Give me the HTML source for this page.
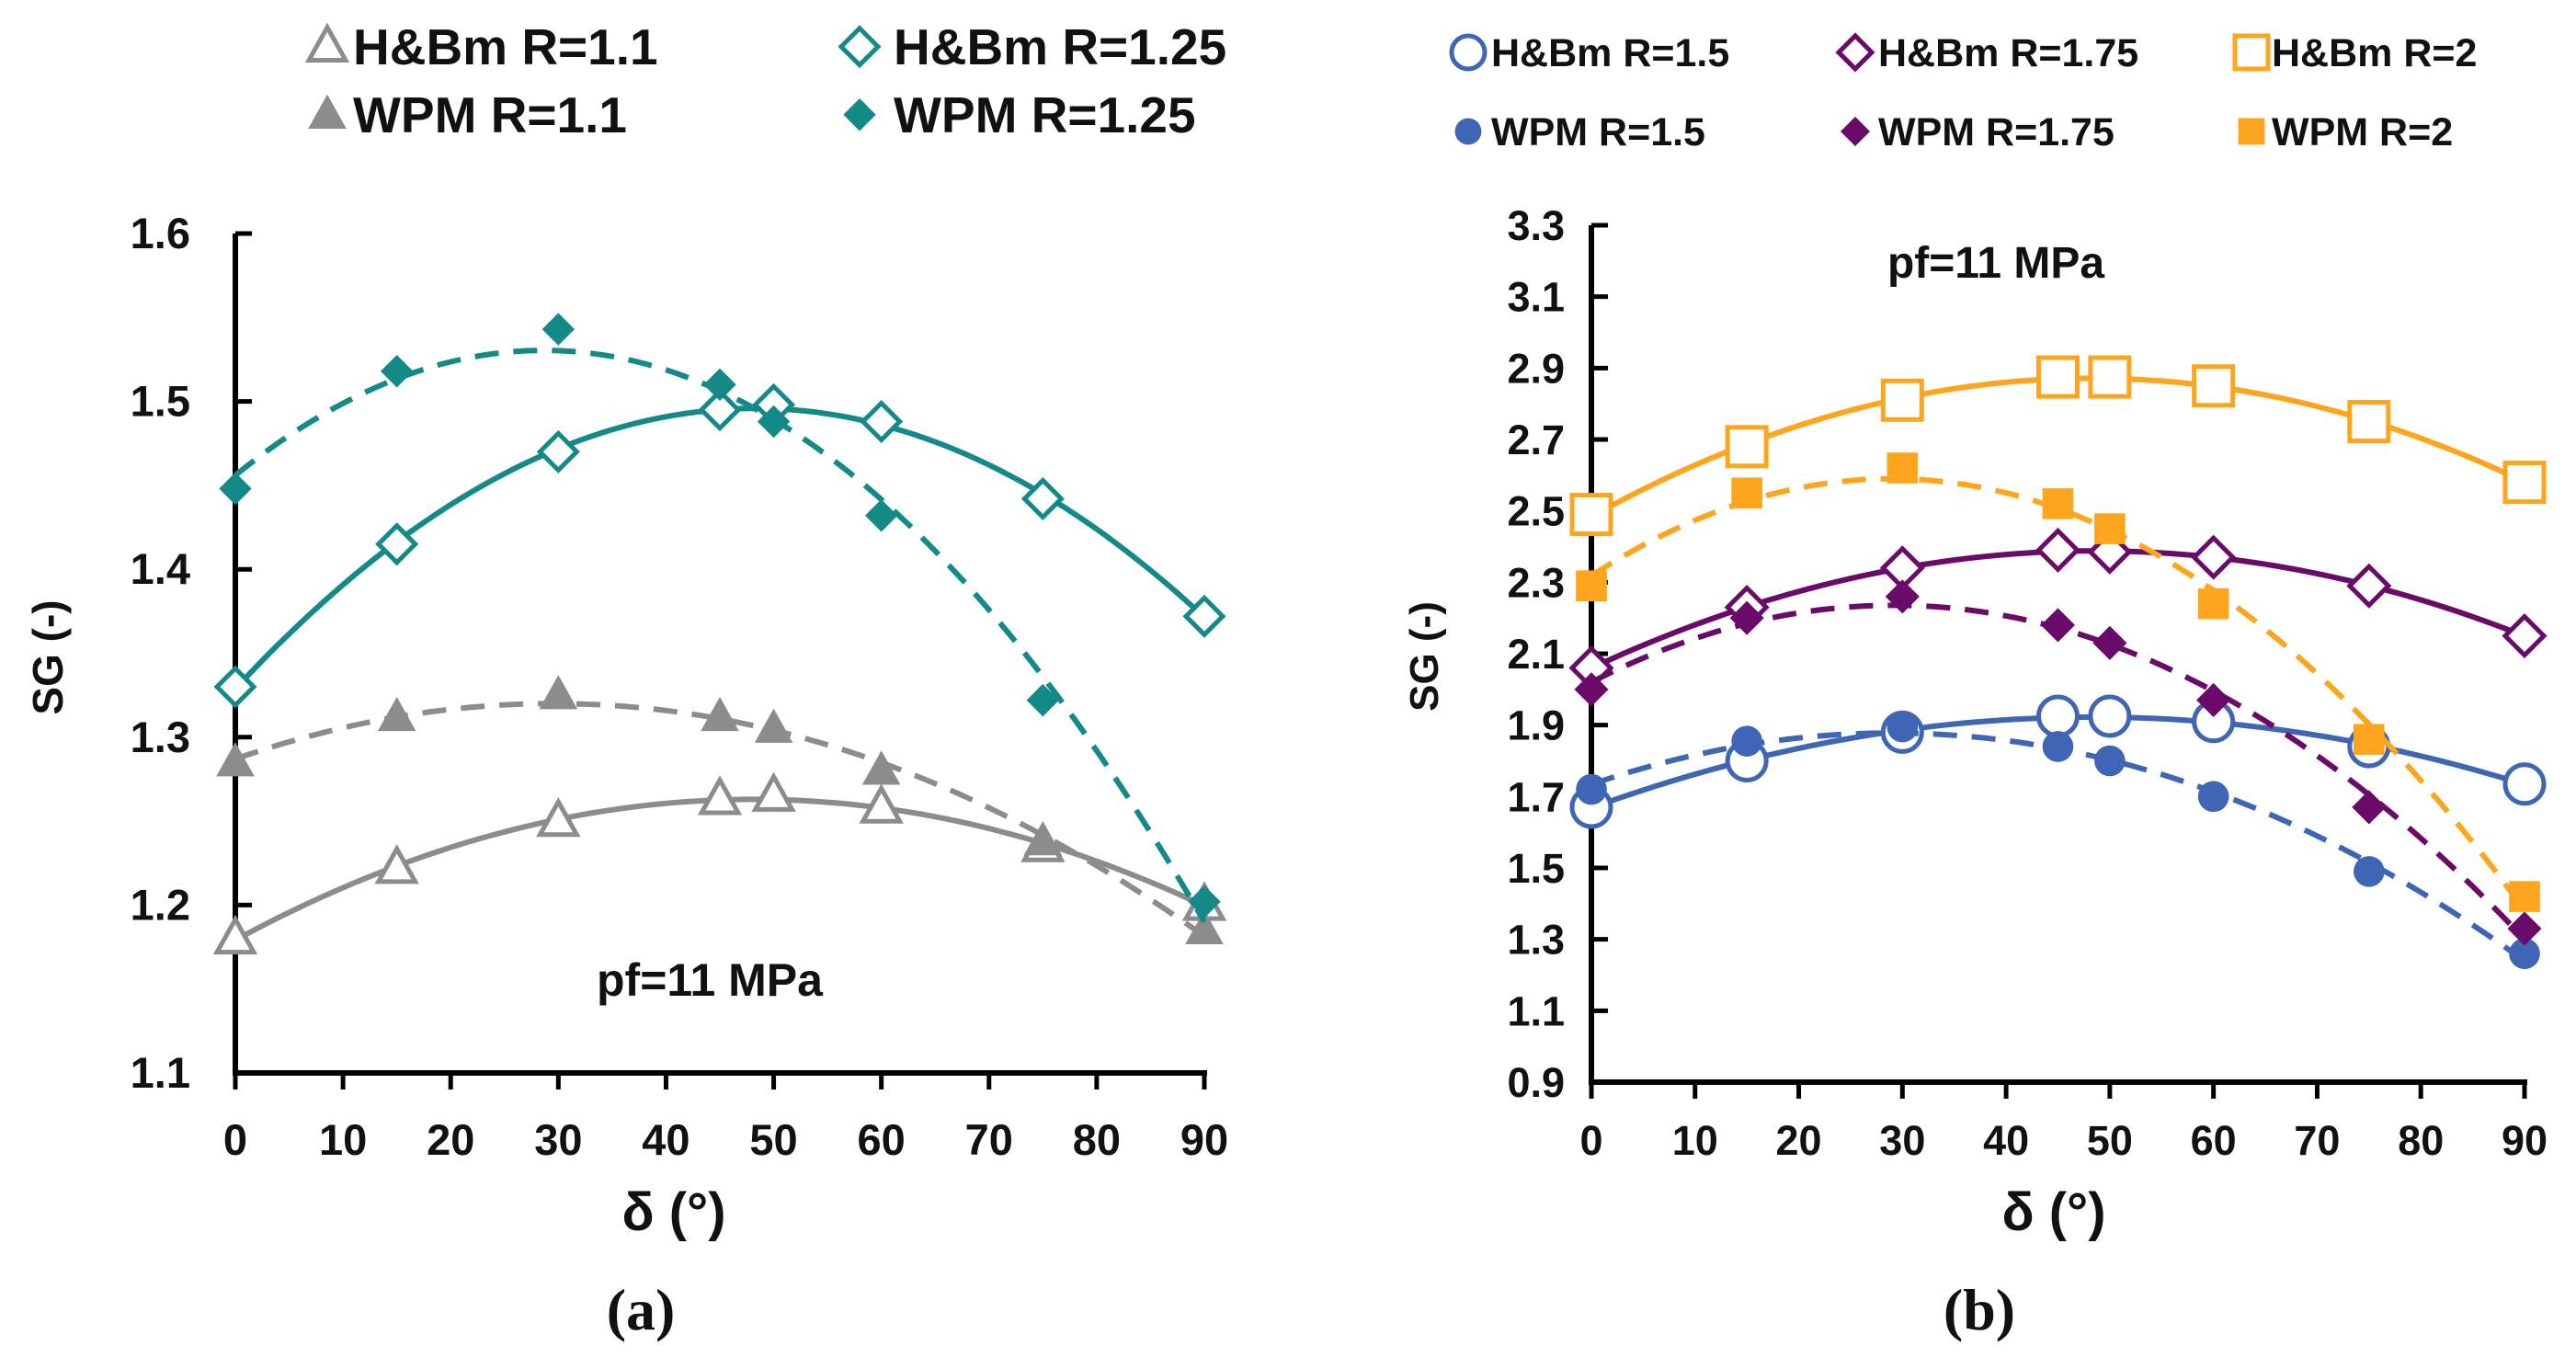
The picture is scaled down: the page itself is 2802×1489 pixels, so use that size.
<!DOCTYPE html>
<html><head><meta charset="utf-8">
<style>
html,body{margin:0;padding:0;background:#fff;}
svg{display:block;}
text{font-family:"Liberation Sans",Arial,sans-serif;font-weight:bold;fill:#111;}
</style></head>
<body>
<svg id="fig" width="2802" height="1489" viewBox="0 0 2802 1489" xmlns="http://www.w3.org/2000/svg">
  <g id="panelA"></g>
  <g id="panelB"></g>
</svg>
<script>
// ---- shared data ----
const angles = [0, 15, 30, 45, 50, 60, 75, 90];
const xTicks = [0, 10, 20, 30, 40, 50, 60, 70, 80, 90];
// Panel A
const aYTicks = [1.1, 1.2, 1.3, 1.4, 1.5, 1.6];
const hbm110 = [1.18, 1.222, 1.25, 1.263, 1.265, 1.258, 1.235, 1.2];
const wpm110 = [1.285, 1.312, 1.325, 1.312, 1.305, 1.28, 1.238, 1.185];
const hbm125 = [1.33, 1.415, 1.47, 1.495, 1.498, 1.488, 1.442, 1.372];
const wpm125 = [1.448, 1.518, 1.543, 1.51, 1.488, 1.432, 1.322, 1.202];
// Panel B
const bYTicks = [0.9, 1.1, 1.3, 1.5, 1.7, 1.9, 2.1, 2.3, 2.5, 2.7, 2.9, 3.1, 3.3];
const hbm150 = [1.67, 1.80, 1.88, 1.925, 1.925, 1.91, 1.84, 1.735];
const wpm150 = [1.72, 1.855, 1.895, 1.84, 1.80, 1.70, 1.49, 1.26];
const hbm175 = [2.06, 2.23, 2.34, 2.39, 2.385, 2.37, 2.29, 2.15];
const wpm175 = [2.00, 2.20, 2.26, 2.18, 2.13, 1.97, 1.67, 1.33];
const hbm200 = [2.49, 2.68, 2.81, 2.875, 2.875, 2.85, 2.75, 2.58];
const wpm200 = [2.29, 2.55, 2.62, 2.52, 2.45, 2.24, 1.86, 1.42];

const NS = "http://www.w3.org/2000/svg";
function mk(tag, attrs, parent){
  const e = document.createElementNS(NS, tag);
  for (const k in attrs) e.setAttribute(k, attrs[k]);
  parent.appendChild(e);
  return e;
}
function fit2(xs, ys){
  let n=xs.length,s=[0,0,0,0,0],t=[0,0,0];
  for(let i=0;i<n;i++){const x=xs[i],y=ys[i];let p=1;for(let k=0;k<5;k++){s[k]+=p;if(k<3)t[k]+=p*y;p*=x;}}
  const M=[[s[0],s[1],s[2],t[0]],[s[1],s[2],s[3],t[1]],[s[2],s[3],s[4],t[2]]];
  for(let i=0;i<3;i++){for(let j=i+1;j<3;j++){const f=M[j][i]/M[i][i];for(let k=i;k<4;k++)M[j][k]-=f*M[i][k];}}
  const c=[0,0,0];
  for(let i=2;i>=0;i--){let v=M[i][3];for(let k=i+1;k<3;k++)v-=M[i][k]*c[k];c[i]=v/M[i][i];}
  return x=>c[0]+c[1]*x+c[2]*x*x;
}
function marker(g, type, cx, cy, color, name, sc){
  sc = sc || 1;
  let e;
  if(type==='tri-open'||type==='tri-fill'){
    const r=21*sc;
    e=mk('polygon',{points:`${cx},${cy-r} ${cx+r*0.95},${cy+r*0.7} ${cx-r*0.95},${cy+r*0.7}`,fill:type==='tri-fill'?color:'#fff',stroke:color,'stroke-width':type==='tri-fill'?1:5,'stroke-linejoin':'miter'},g);
  } else if(type==='dia-open'||type==='dia-fill'){
    const r=(type==='dia-open'?20:17)*sc;
    e=mk('polygon',{points:`${cx},${cy-r} ${cx+r},${cy} ${cx},${cy+r} ${cx-r},${cy}`,fill:type==='dia-fill'?color:'#fff',stroke:color,'stroke-width':type==='dia-fill'?1:5},g);
  } else if(type==='circ-open'){
    e=mk('circle',{cx:cx,cy:cy,r:20*sc,fill:'#fff',stroke:color,'stroke-width':5},g);
  } else if(type==='circ-fill'){
    e=mk('circle',{cx:cx,cy:cy,r:16*sc,fill:color},g);
  } else if(type==='sq-open'){
    e=mk('rect',{x:cx-20*sc,y:cy-20*sc,width:40*sc,height:40*sc,fill:'#fff',stroke:color,'stroke-width':5},g);
  } else if(type==='sq-fill'){
    e=mk('rect',{x:cx-16*sc,y:cy-16*sc,width:32*sc,height:32*sc,fill:color},g);
  }
  
  
  return e;
}
function drawPanel(g, cfg){
  const xs = v => cfg.x0 + (v-0)/(90-0)*(cfg.x1-cfg.x0);
  const ys = v => cfg.y0 + (v-cfg.ymin)/(cfg.ymax-cfg.ymin)*(cfg.y1-cfg.y0);
  const ax = mk('g',{},g);
  
  
  mk('line',{x1:cfg.x0,y1:cfg.y0,x2:cfg.x0,y2:cfg.y1,stroke:'#000','stroke-width':6},ax);
  mk('line',{x1:cfg.x0-3,y1:cfg.y0,x2:cfg.x1+3,y2:cfg.y0,stroke:'#000','stroke-width':6},ax);
  cfg.yTicks.forEach(t=>{
    const y=ys(t);
    mk('line',{x1:cfg.x0,y1:y,x2:cfg.x0+18,y2:y,stroke:'#000','stroke-width':5},ax);
    const tx=mk('text',{x:cfg.yLabX,y:y+16,'text-anchor':'end','font-size':cfg.tickFont},ax);
    tx.textContent=t.toFixed(1);
    
    
  });
  xTicks.forEach(t=>{
    const x=xs(t);
    mk('line',{x1:x,y1:cfg.y0,x2:x,y2:cfg.y0+18,stroke:'#000','stroke-width':5},ax);
    const tx=mk('text',{x:x,y:cfg.xLabY,'text-anchor':'middle','font-size':cfg.tickFont},ax);
    tx.textContent=String(t);
    
    
  });
  cfg.series.forEach(s=>{
    const sg=mk('g',{},g);
    
    
    const f=fit2(angles,s.data);
    let d='';
    for(let a=0;a<=90;a+=1){d+=(a?'L':'M')+xs(a).toFixed(1)+','+ys(f(a)).toFixed(1);}
    const p=mk('path',{d:d,fill:'none',stroke:s.color,'stroke-width':6,'stroke-dasharray':s.dash?'26,16':'none'},sg);
    
    
    s.data.forEach((v,i)=>marker(sg,s.marker,xs(angles[i]),ys(v),s.color,s.name+'-point',cfg.msc));
  });
  cfg.legend.forEach(l=>{
    const lg=mk('g',{},g);
    
    
    marker(lg,l.marker,l.mx,l.y-cfg.legFont*0.35,l.color,'legend-marker',cfg.lsc);
    const t=mk('text',{x:l.tx,y:l.y,'font-size':cfg.legFont},lg);
    t.textContent=l.label;
    
    
  });
}
const GRAY='#8c8c8c', TEAL='#138a87', BLUE='#3f65b5', PURP='#6a0a69', ORNG='#fda51c';
drawPanel(document.getElementById('panelA'),{
  x0:256,x1:1310,y0:1167,y1:254,ymin:1.1,ymax:1.6,yTicks:aYTicks,yLabX:207,xLabY:1256,tickFont:47,legFont:55,msc:1,lsc:1,
  series:[
    {name:'hbm-r1.1',data:hbm110,color:GRAY,marker:'tri-open',dash:false},
    {name:'wpm-r1.1',data:wpm110,color:GRAY,marker:'tri-fill',dash:true},
    {name:'hbm-r1.25',data:hbm125,color:TEAL,marker:'dia-open',dash:false},
    {name:'wpm-r1.25',data:wpm125,color:TEAL,marker:'dia-fill',dash:true}
  ],
  legend:[
    {label:'H&Bm R=1.1',marker:'tri-open',color:GRAY,mx:356,tx:384,y:70},
    {label:'WPM R=1.1',marker:'tri-fill',color:GRAY,mx:356,tx:384,y:144},
    {label:'H&Bm R=1.25',marker:'dia-open',color:TEAL,mx:935,tx:972,y:70},
    {label:'WPM R=1.25',marker:'dia-fill',color:TEAL,mx:935,tx:972,y:144}
  ]
});
drawPanel(document.getElementById('panelB'),{
  x0:1731,x1:2746,y0:1177,y1:245,ymin:0.9,ymax:3.3,yTicks:bYTicks,yLabX:1702,xLabY:1256,tickFont:45,legFont:43,msc:1.05,lsc:0.9,
  series:[
    {name:'hbm-r1.5',data:hbm150,color:BLUE,marker:'circ-open',dash:false},
    {name:'wpm-r1.5',data:wpm150,color:BLUE,marker:'circ-fill',dash:true},
    {name:'hbm-r1.75',data:hbm175,color:PURP,marker:'dia-open',dash:false},
    {name:'wpm-r1.75',data:wpm175,color:PURP,marker:'dia-fill',dash:true},
    {name:'hbm-r2',data:hbm200,color:ORNG,marker:'sq-open',dash:false},
    {name:'wpm-r2',data:wpm200,color:ORNG,marker:'sq-fill',dash:true}
  ],
  legend:[
    {label:'H&Bm R=1.5',marker:'circ-open',color:BLUE,mx:1597,tx:1622,y:72},
    {label:'WPM  R=1.5',marker:'circ-fill',color:BLUE,mx:1597,tx:1622,y:158},
    {label:'H&Bm R=1.75',marker:'dia-open',color:PURP,mx:2018,tx:2043,y:72},
    {label:'WPM R=1.75',marker:'dia-fill',color:PURP,mx:2018,tx:2043,y:158},
    {label:'H&Bm R=2',marker:'sq-open',color:ORNG,mx:2449,tx:2471,y:72},
    {label:'WPM R=2',marker:'sq-fill',color:ORNG,mx:2449,tx:2471,y:158}
  ]
});
</script>
<script>
const fig=document.getElementById('fig');
function txt(x,y,s,size,name,extra){
  const t=document.createElementNS("http://www.w3.org/2000/svg",'text');
  t.setAttribute('x',x);t.setAttribute('y',y);t.setAttribute('font-size',size);
  if(extra){for(const k in extra)t.setAttribute(k,extra[k]);}
  t.textContent=s;
  
  
  fig.appendChild(t);
}
txt(733,1338,'δ (°)',58,'x-axis-title-a',{'text-anchor':'middle'});
txt(2234,1338,'δ (°)',58,'x-axis-title-b',{'text-anchor':'middle'});
txt(68,715,'SG (-)',46,'y-axis-title-a',{'text-anchor':'middle',transform:'rotate(-90 68 715)'});
txt(1564,714,'SG (-)',44,'y-axis-title-b',{'text-anchor':'middle',transform:'rotate(-90 1564 714)'});
txt(772,1083,'pf=11 MPa',50,'annotation-a',{'text-anchor':'middle'});
txt(2171,302,'pf=11 MPa',48,'annotation-b',{'text-anchor':'middle'});
txt(697,1446,'(a)',64,'panel-label-a',{'text-anchor':'middle',style:'font-family:"Liberation Serif",serif'});
txt(2153,1446,'(b)',64,'panel-label-b',{'text-anchor':'middle',style:'font-family:"Liberation Serif",serif'});
</script>
</body></html>
